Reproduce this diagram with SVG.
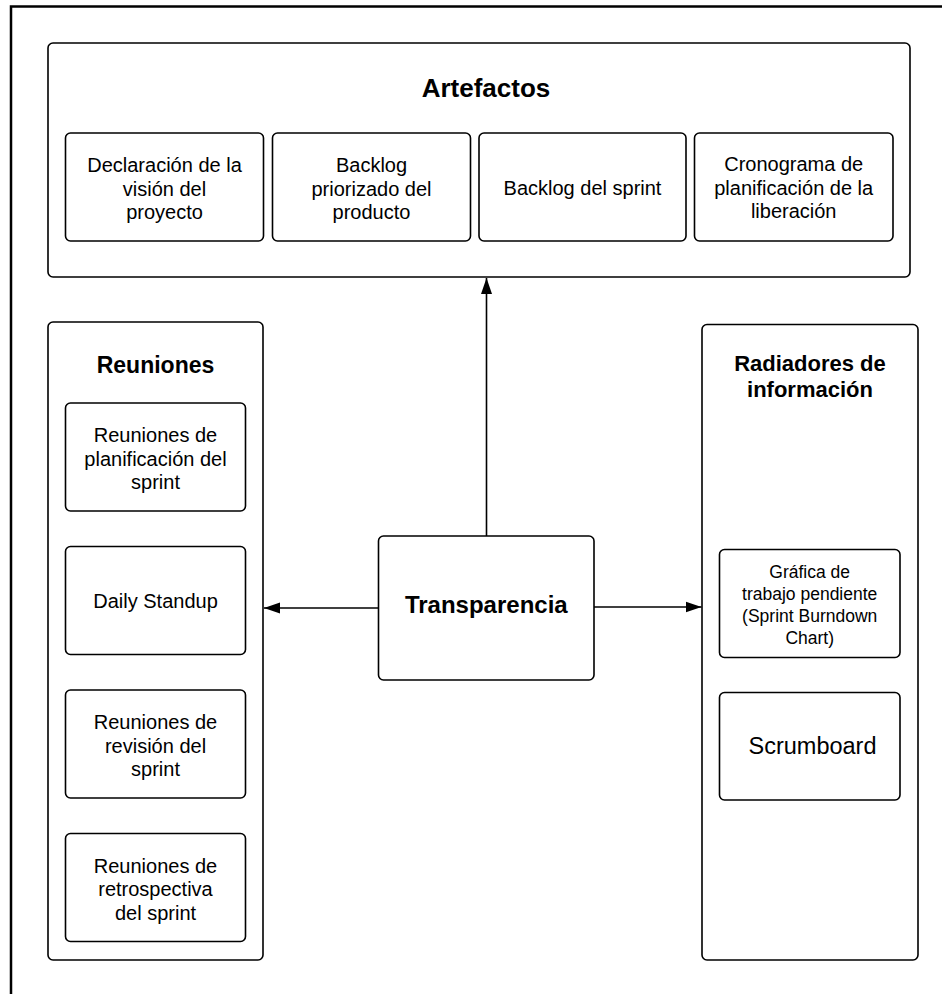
<svg xmlns="http://www.w3.org/2000/svg" width="942" height="994" viewBox="0 0 942 994">
<style>
.box{fill:#fff;stroke:#000;stroke-width:1.6}
.t{font-family:"Liberation Sans",Arial,sans-serif;font-size:20px;fill:#000;text-anchor:middle}
.b{font-weight:bold}
.c{stroke:#000;stroke-width:1.6;fill:none}
</style>
<defs>
<marker id="ah" markerUnits="userSpaceOnUse" markerWidth="18" markerHeight="12" refX="16" refY="6" orient="auto">
<path d="M0,0.5 L16,6 L0,11.5 Z" fill="#000"/>
</marker>
</defs>
<rect width="942" height="994" fill="#fff"/>
<rect x="11" y="6.5" width="960" height="1020" fill="none" stroke="#000" stroke-width="2.5"/>

<g id="artefactos">
<rect class="box" x="48" y="43" width="862" height="234" rx="5"/>
<text class="t b" x="486" y="97" style="font-size:26px">Artefactos</text>
</g>
<g id="declaracion">
<rect class="box" x="65.5" y="133" width="198" height="108" rx="5"/>
<text class="t" x="164.5" y="172">Declaración de la</text>
<text class="t" x="164.5" y="195.5">visión del</text>
<text class="t" x="164.5" y="219">proyecto</text>
</g>
<g id="backlog-priorizado">
<rect class="box" x="272.5" y="133" width="198" height="108" rx="5"/>
<text class="t" x="371.5" y="172">Backlog</text>
<text class="t" x="371.5" y="195.5">priorizado del</text>
<text class="t" x="371.5" y="219">producto</text>
</g>
<g id="backlog-sprint">
<rect class="box" x="479" y="133" width="207" height="108" rx="5"/>
<text class="t" x="582.5" y="194.5">Backlog del sprint</text>
</g>
<g id="cronograma">
<rect class="box" x="694.5" y="133" width="198.5" height="108" rx="5"/>
<text class="t" x="793.7" y="171">Cronograma de</text>
<text class="t" x="793.7" y="194.5">planificación de la</text>
<text class="t" x="793.7" y="218">liberación</text>
</g>

<g id="reuniones">
<rect class="box" x="48" y="322" width="215" height="638" rx="5"/>
<text class="t b" x="155.5" y="372.5" style="font-size:23px">Reuniones</text>
</g>
<g id="planificacion-sprint">
<rect class="box" x="65.5" y="403" width="180" height="108" rx="5"/>
<text class="t" x="155.5" y="442">Reuniones de</text>
<text class="t" x="155.5" y="465.5">planificación del</text>
<text class="t" x="155.5" y="489">sprint</text>
</g>
<g id="daily-standup">
<rect class="box" x="65.5" y="546.5" width="180" height="108" rx="5"/>
<text class="t" x="155.5" y="607.7">Daily Standup</text>
</g>
<g id="revision-sprint">
<rect class="box" x="65.5" y="690" width="180" height="108" rx="5"/>
<text class="t" x="155.5" y="729">Reuniones de</text>
<text class="t" x="155.5" y="752.5">revisión del</text>
<text class="t" x="155.5" y="776">sprint</text>
</g>
<g id="retrospectiva-sprint">
<rect class="box" x="65.5" y="833.5" width="180" height="108" rx="5"/>
<text class="t" x="155.5" y="872.5">Reuniones de</text>
<text class="t" x="155.5" y="896">retrospectiva</text>
<text class="t" x="155.5" y="919.5">del sprint</text>
</g>

<g id="radiadores">
<rect class="box" x="702" y="324.5" width="216" height="635.5" rx="5"/>
<text class="t b" x="810" y="371" style="font-size:22px">Radiadores de</text>
<text class="t b" x="810" y="396.5" style="font-size:22px">información</text>
</g>
<g id="grafica">
<rect class="box" x="719.5" y="549.5" width="180.5" height="108" rx="5"/>
<text class="t" x="809.7" y="577.5" style="font-size:17.5px">Gráfica de</text>
<text class="t" x="809.7" y="599.5" style="font-size:17.5px">trabajo pendiente</text>
<text class="t" x="809.7" y="621.5" style="font-size:17.5px">(Sprint Burndown</text>
<text class="t" x="809.7" y="643.5" style="font-size:17.5px">Chart)</text>
</g>
<g id="scrumboard">
<rect class="box" x="719.5" y="692.5" width="180.5" height="107.5" rx="5"/>
<text class="t" x="812.5" y="754" style="font-size:23.5px">Scrumboard</text>
</g>

<g id="transparencia">
<rect class="box" x="378.5" y="536" width="215.5" height="144" rx="5"/>
<text class="t b" x="486.3" y="613" style="font-size:24px">Transparencia</text>
</g>

<g id="connectors">
<line class="c" x1="486.5" y1="536" x2="486.5" y2="278" marker-end="url(#ah)"/>
<line class="c" x1="378.5" y1="608" x2="264" y2="608" marker-end="url(#ah)"/>
<line class="c" x1="594" y1="607" x2="701.5" y2="607" marker-end="url(#ah)"/>
</g>
</svg>
